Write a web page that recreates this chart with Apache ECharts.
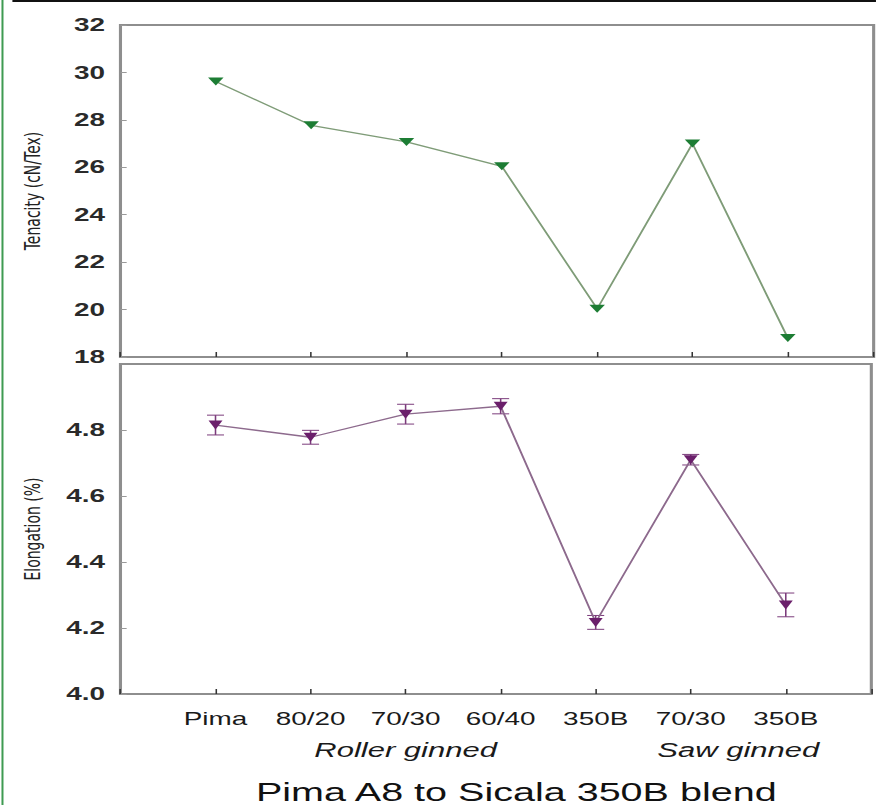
<!DOCTYPE html>
<html>
<head>
<meta charset="utf-8">
<script src="https://cdn.jsdelivr.net/npm/echarts@6/dist/echarts.min.js"></script>
<style>
    html,body{margin:0;padding:0;background:#fff;overflow:hidden;}
    /* the source figure is stretched sideways, so draw narrow and widen */
    #main{width:565px;height:805px;transform:scaleX(1.5504);transform-origin:0 0;}
</style>
</head>
<body>
<div id="main"></div>
<script>
// categories (x = 1..7)
var categories = ['Pima', '80/20', '70/30', '60/40', '350B', '70/30', '350B'];
// Tenacity (cN/Tex)
var tenacity = [29.62, 27.77, 27.07, 26.04, 20.03, 27.0, 18.8];
// Elongation (%) and error
var elongation = [4.815, 4.778, 4.848, 4.872, 4.217, 4.71, 4.27];
var elongErr = [0.03, 0.021, 0.03, 0.023, 0.021, 0.016, 0.036];
// group labels under the axis
var groupNames = ['Roller ginned', 'Saw ginned'];
var groupPos = [3, 6.5];
var xTitle = 'Pima A8 to Sicala 350B blend';

var myChart = echarts.init(document.getElementById('main'), null, {renderer: 'svg'});

var tenData = [], elData = [], errData = [];
for (var i = 0; i < categories.length; i++) {
    tenData.push([i + 1, tenacity[i]]);
    elData.push([i + 1, elongation[i]]);
    errData.push([i + 1, elongation[i] - elongErr[i], elongation[i] + elongErr[i]]);
}

var gridStyle = {show: true, borderColor: '#8e8e8e', borderWidth: 2, backgroundColor: '#fff'};
function xAxisOf(idx, showLabel) {
    return {
        type: 'value', gridIndex: idx, min: 0, max: 7.9, interval: 1,
        axisLine: {show: false},
        axisTick: {show: true, inside: true, length: 5, lineStyle: {color: '#333', width: 1}},
        splitLine: {show: false},
        axisLabel: {
            show: showLabel, margin: 16,
            fontFamily: '"Liberation Sans", Arial', fontSize: 18, color: '#1a1a1a',
            formatter: function (v) {
                return (v >= 1 && v <= categories.length && v % 1 === 0) ? categories[v - 1] : '';
            }
        }
    };
}
function yAxisOf(idx, min, max, interval, digits, name, showMax) {
    return {
        type: 'value', gridIndex: idx, min: min, max: max, interval: interval,
        name: name, nameLocation: 'middle', nameGap: 50, nameRotate: 90,
        nameTextStyle: {fontFamily: '"DejaVu Sans"', fontSize: 14, color: '#222'},
        axisLine: {show: false},
        axisTick: {show: true, inside: true, length: 4, lineStyle: {color: '#999'}},
        splitLine: {show: false},
        axisLabel: {
            margin: 10, showMaxLabel: showMax, showMinLabel: true,
            fontFamily: '"Liberation Sans", Arial', fontSize: 18, fontWeight: 'bold', color: '#2a2a2a',
            formatter: function (v) { return v.toFixed(digits); }
        }
    };
}

var option = {
    animation: false,
    grid: [
        echarts.util.extend({left: 77.7, right: 1.5, top: 25, height: 332}, gridStyle),
        echarts.util.extend({left: 77.7, right: 1.5, top: 364, height: 330}, gridStyle)
    ],
    xAxis: [xAxisOf(0, false), xAxisOf(1, true)],
    yAxis: [
        yAxisOf(0, 18, 32, 2, 0, 'Tenacity (cN/Tex)', true),
        yAxisOf(1, 4.0, 5.0, 0.2, 1, 'Elongation (%)', false)
    ],
    series: [
        {
            type: 'line', xAxisIndex: 0, yAxisIndex: 0, data: tenData,
            symbol: 'triangle', symbolRotate: 180, symbolSize: [10, 8],
            itemStyle: {color: '#1d7d34'},
            lineStyle: {color: '#7f9c78', width: 1.3}
        },
        {
            type: 'custom', xAxisIndex: 1, yAxisIndex: 1, data: errData,
            renderItem: function (params, api) {
                var x = api.value(0);
                var lo = api.coord([x, api.value(1)]);
                var hi = api.coord([x, api.value(2)]);
                var w = 5.5;
                var st = {stroke: '#7b3b7b', lineWidth: 1};
                return {
                    type: 'group',
                    children: [
                        {type: 'line', shape: {x1: hi[0], y1: hi[1], x2: lo[0], y2: lo[1]}, style: st},
                        {type: 'line', shape: {x1: hi[0] - w, y1: hi[1], x2: hi[0] + w, y2: hi[1]}, style: st},
                        {type: 'line', shape: {x1: lo[0] - w, y1: lo[1], x2: lo[0] + w, y2: lo[1]}, style: st}
                    ]
                };
            }
        },
        {
            type: 'line', xAxisIndex: 1, yAxisIndex: 1, data: elData,
            symbol: 'triangle', symbolRotate: 180, symbolSize: [9, 9],
            itemStyle: {color: '#6b1f6b'},
            lineStyle: {color: '#8d6a8d', width: 1.3}
        }
    ]
};
myChart.setOption(option);

// labels below the axis, placed from the axis scale
var graphics = [
    {type: 'line', shape: {x1: 1.6, y1: 0, x2: 1.6, y2: 805}, style: {stroke: '#3f9b52', lineWidth: 1.3}},
    {type: 'line', shape: {x1: 8, y1: 1, x2: 565, y2: 1}, style: {stroke: '#111', lineWidth: 2}}
];
for (var g = 0; g < groupNames.length; g++) {
    var px = myChart.convertToPixel({xAxisIndex: 1}, groupPos[g]);
    graphics.push({
        type: 'text', x: px, y: 750,
        style: {text: groupNames[g], font: 'italic 20px "Liberation Sans", Arial', fill: '#1a1a1a', align: 'center', verticalAlign: 'middle'}
    });
}
graphics.push({
    type: 'text', x: 333, y: 792,
    style: {text: xTitle, font: '25.5px "Liberation Sans", Arial', fill: '#111', align: 'center', verticalAlign: 'middle'}
});
myChart.setOption({graphic: graphics});
</script>
</body>
</html>
